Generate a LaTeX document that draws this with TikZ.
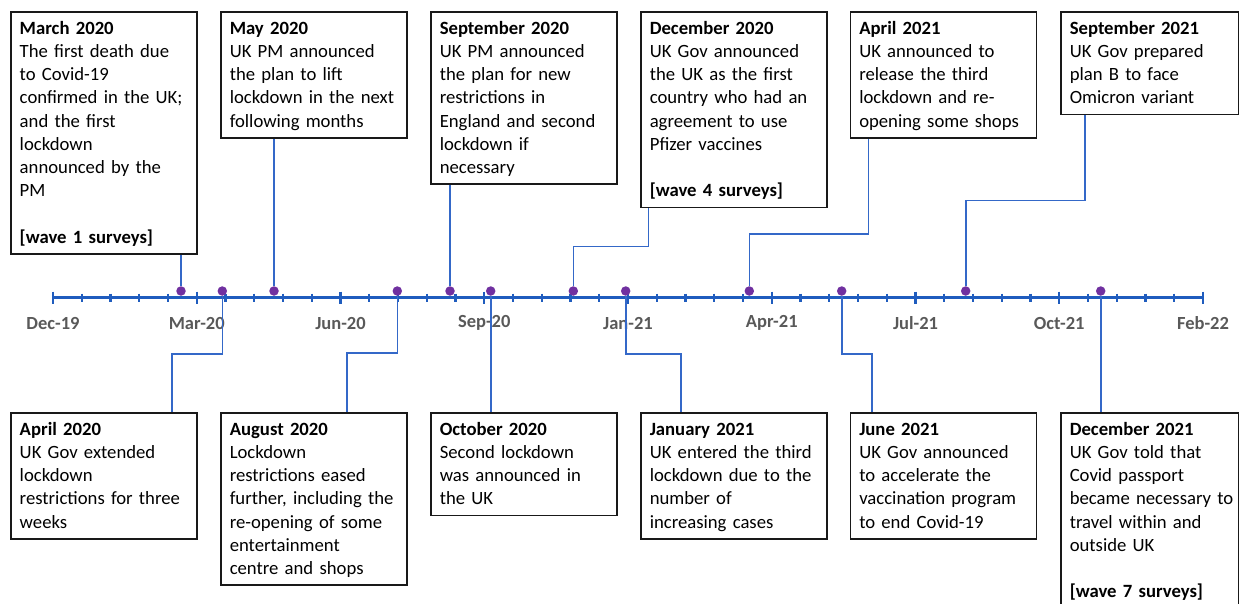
\documentclass[tikz,border=0pt]{standalone}
\usepackage{fontspec}
\setmainfont{Carlito}
\usepackage{tikz}
\definecolor{axisblue}{RGB}{31,92,190}
\definecolor{linkblue}{RGB}{52,104,200}
\definecolor{evpurple}{RGB}{112,48,160}
\definecolor{labgray}{RGB}{89,89,89}

\begin{document}
\begin{tikzpicture}[x=1pt,y=1pt,
  event/.style={draw=black!90,line width=1.5pt,anchor=north west,text width=168pt,
    inner xsep=9pt,inner ysep=0pt,align=left,font=\fontsize{18.7}{23.2}\selectfont,
    execute at begin node={\rule{0pt}{22.5pt}},
    execute at end node={\rule[-10.7pt]{0pt}{10.7pt}}},
  edge event/.style={event,text width=160pt},
  conn/.style={linkblue,line width=1.6pt},
  dot/.style={circle,fill=evpurple,inner sep=0pt,minimum size=9.5pt},
  datelab/.style={text=labgray,font=\fontsize{18.5}{20}\selectfont\bfseries}]
\useasboundingbox (0,0) rectangle (1239,-603);

% time axis
\draw [axisblue,line width=3pt] (53,-297.5) -- (1203,-297.5);
\foreach \k in {0,...,40}
  \draw [axisblue,line width=2.2pt] ({53+28.75*\k},-293.5) -- ++(0,-8.5);
\foreach \k/\t in {0/Dec-19,1/Mar-20,2/Jun-20,3/Sep-20,4/Jan-21,5/Apr-21,6/Jul-21,7/Oct-21,8/Feb-22} {
  \draw [axisblue,line width=2.2pt] ({53+143.75*\k},-291.5) -- ++(0,-12.5);
  \node [datelab] (lab\k) at ({53+143.75*\k},-323) {\t};
}

% event dots
\foreach \x/\n in {181/mar20,222.3/apr20,274/may20,397.3/aug20,450/sep20,490.7/oct20,
    573.3/dec20,625.7/jan21,749.3/apr21,841.7/jun21,965.7/sep21,1100.7/dec21}
  \node [dot] (d-\n) at (\x,-291) {};

% boxes above the axis
\node [event] (mar20) at (10,-11) {\textbf{March 2020}\\The first death due\\to Covid-19\\confirmed in the UK;\\and the first\\lockdown\\announced by the\\PM\\\mbox{}\\\textbf{[wave 1 surveys]}};
\node [event] (may20) at (220,-11) {\textbf{May 2020}\\UK PM announced\\the plan to lift\\lockdown in the next\\following months};
\node [event] (sep20) at (430,-11) {\textbf{September 2020}\\UK PM announced\\the plan for new\\restrictions in\\England and second\\lockdown if\\necessary};
\node [event] (dec20) at (640,-11) {\textbf{December 2020}\\UK Gov announced\\the UK as the first\\country who had an\\agreement to use\\Pfizer vaccines\\\mbox{}\\\textbf{[wave 4 surveys]}};
\node [event] (apr21) at (849.5,-11) {\textbf{April 2021}\\UK announced to\\release the third\\lockdown and re-\\opening some shops};
\node [edge event] (sep21) at (1060,-11) {\textbf{September 2021}\\UK Gov prepared\\plan B to face\\Omicron variant};

% boxes below the axis
\node [event] (apr20) at (10,-412) {\textbf{April 2020}\\UK Gov extended\\lockdown\\restrictions for three\\weeks};
\node [event] (aug20) at (220,-412) {\textbf{August 2020}\\Lockdown\\restrictions eased\\further, including the\\re-opening of some\\entertainment\\centre and shops};
\node [event] (oct20) at (430,-412) {\textbf{October 2020}\\Second lockdown\\was announced in\\the UK};
\node [event] (jan21) at (640,-412) {\textbf{January 2021}\\UK entered the third\\lockdown due to the\\number of\\increasing cases};
\node [event] (jun21) at (849.5,-412) {\textbf{June 2021}\\UK Gov announced\\to accelerate the\\vaccination program\\to end Covid-19};
\node [edge event] (dec21) at (1060,-412) {\textbf{December 2021}\\UK Gov told that\\Covid passport\\\mbox{became necessary to}\\travel within and\\outside UK\\\mbox{}\\\textbf{[wave 7 surveys]}};

% connectors up
\draw [conn] (d-mar20.north) -- (d-mar20.north |- mar20.south);
\draw [conn] (d-may20.north) -- (d-may20.north |- may20.south);
\draw [conn] (d-sep20.north) -- (d-sep20.north |- sep20.south);
\draw [conn] (d-dec20.north) -- ++(0,39.5) -| ([xshift=8.3pt]dec20.south west);
\draw [conn] (d-apr21.north) -- ++(0,52.3) -| ([xshift=18.8pt]apr21.south west);
\draw [conn] (d-sep21.north) -- ++(0,85.5) -| ([xshift=25pt]sep21.south west);

% connectors down
\draw [conn] (d-apr20.south) -- ++(0,-58.2) -| ([xshift=161.7pt]apr20.north west);
\draw [conn] (d-aug20.south) -- ++(0,-57.2) -| ([xshift=127pt]aug20.north west);
\draw [conn] (d-oct20.south) -- (d-oct20.south |- oct20.north);
\draw [conn] (d-jan21.south) -- ++(0,-58.2) -| ([xshift=40.7pt]jan21.north west);
\draw [conn] (d-jun21.south) -- ++(0,-58.2) -| ([xshift=22.2pt]jun21.north west);
\draw [conn] (d-dec21.south) -- (d-dec21.south |- dec21.north);
\end{tikzpicture}
\end{document}
